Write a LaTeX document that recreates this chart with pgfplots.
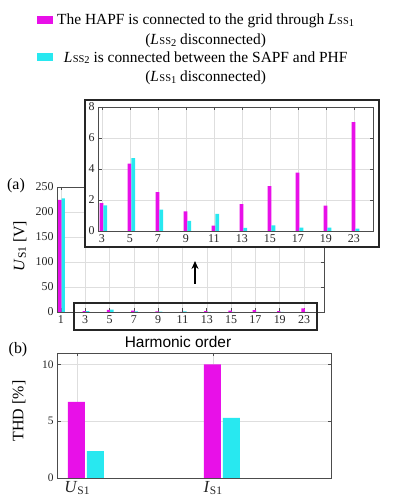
\documentclass[border=0pt]{standalone}
\usepackage{fontspec}
\setmainfont{Liberation Serif}
\setsansfont{Liberation Sans}
\usepackage{pgfplots}
\pgfplotsset{compat=1.18}
\usepackage{pgfplotstable}
\usetikzlibrary{arrows.meta}

\definecolor{hapf}{RGB}{232,16,232}
\definecolor{lss}{RGB}{40,232,240}

% harmonic spectrum of the grid voltage: idx = position on the axis
\pgfplotstableread{
idx h  mag  cya
0   1  224  227
1   3  1.80 1.65
2   5  4.34 4.70
3   7  2.50 1.38
4   9  1.27 0.65
5   11 0.34 1.10
6   13 1.74 0.20
7   15 2.90 0.37
8   17 3.76 0.22
9   19 1.63 0.22
10  23 7.03 0.15
}\harmonics

% total harmonic distortion of voltage and current
\pgfplotstableread{
idx mag  cya
1   6.7  2.37
2   10.0 5.30
}\thd

\newcommand\Lss[1]{\textit{L}\kern0.4bp{\fontsize{10.5}{10}\selectfont SS\raisebox{-1.2bp}{#1}}}
\newcommand\Sub[1]{\raisebox{-1.5bp}{\fontsize{11.5}{11}\selectfont #1}}

\pgfplotsset{
  panel/.style={
    scale only axis, ybar,
    axis line style={draw=black!70, line width=0.9bp},
    grid=major, grid style={draw=black!13, line width=0.5bp},
    major tick style={draw=black!70, line width=0.6bp},
    major tick length=3.5bp, tick align=inside,
    /pgf/number format/assume math mode=true,
    ticklabel style={text=black!85},
  },
}

\begin{document}
\begin{tikzpicture}
\path[use as bounding box] (0,0) rectangle (393bp,500bp);

% (a) full spectrum
\begin{axis}[panel,
  at={(57bp,188bp)}, anchor=south west,
  width=267bp, height=125bp,
  xmin=-0.16, xmax=10.82, ymin=0, ymax=250,
  xtick={0,...,10}, xticklabels={1,3,5,7,9,11,13,15,17,19,23},
  ytick={0,50,...,250},
  ticklabel style={font=\fontsize{12}{12}\selectfont},
  legend style={draw=none, fill=none, inner sep=0pt,
    at={(axis description cs:-0.075,2.40)}, anchor=north west,
    cells={align=center}, font=\fontsize{15.5}{20}\selectfont,
    row sep=1bp, column sep=2bp},
  legend image code/.code={\fill[#1] (0bp,6bp) rectangle (16bp,14bp);},
]
\addplot[fill=hapf, draw=none, bar width=3.4bp, bar shift=-1bp]
  table[x=idx, y=mag]{\harmonics};
\addplot[fill=lss, draw=none, bar width=3.4bp, bar shift=2.4bp]
  table[x=idx, y=cya]{\harmonics};
\addlegendentry{The HAPF is connected to the grid through \Lss{1}\\(\Lss{2} disconnected)}
\addlegendentry{\Lss{2} is connected between the SAPF and PHF\\(\Lss{1} disconnected)}
\end{axis}

% frame around the higher harmonics and pointer to the zoom
\draw[line width=1.4bp, black!85] (74bp,170bp) rectangle (317bp,197bp);
\draw[line width=1.6bp, -{Stealth[length=8bp,width=7bp]}] (195bp,216bp) -- (195bp,239bp);

% zoomed view of the higher harmonics
\draw[line width=2.2bp, black!85, fill=white] (85bp,253bp) rectangle (379bp,400bp);
\begin{axis}[panel,
  at={(98bp,269bp)}, anchor=south west,
  width=275bp, height=124bp,
  xmin=0.86, xmax=10.68, ymin=0, ymax=8,
  xtick={1,...,10}, xticklabels={3,5,7,9,11,13,15,17,19,23},
  ytick={0,2,...,8},
  ticklabel style={font=\fontsize{12}{12}\selectfont},
]
\addplot[fill=hapf, draw=none, bar width=3.8bp, bar shift=-0.4bp,
  skip coords between index={0}{1}]
  table[x=idx, y=mag]{\harmonics};
\addplot[fill=lss, draw=none, bar width=3.8bp, bar shift=3.4bp,
  skip coords between index={0}{1}]
  table[x=idx, y=cya]{\harmonics};
\end{axis}

% (b) THD
\begin{axis}[panel,
  at={(57bp,22bp)}, anchor=south west,
  width=274bp, height=125bp,
  xmin=0.853, xmax=2.87, ymin=0, ymax=11,
  xtick={1,2}, xticklabels={\textit{U}\Sub{S1}, \textit{I}\Sub{S1}},
  ytick={0,5,10},
  yticklabel style={font=\fontsize{11.5}{12}\selectfont},
  xticklabel style={font=\fontsize{17}{17}\selectfont},
]
\addplot[fill=hapf, draw=none, bar width=17bp, bar shift=-0.5bp]
  table[x=idx, y=mag]{\thd};
\addplot[fill=lss, draw=none, bar width=17bp, bar shift=18.5bp]
  table[x=idx, y=cya]{\thd};
\end{axis}

\node[font=\fontsize{16}{16}\selectfont] at (16bp,314bp) {(a)};
\node[font=\fontsize{16}{16}\selectfont] at (18bp,150bp) {(b)};
\node[rotate=90, font=\fontsize{16}{16}\selectfont] at (20bp,254bp) {\textit{U}\Sub{S1} [V]};
\node[rotate=90, font=\fontsize{16}{16}\selectfont] at (19bp,89bp) {THD [\%]};
\node[font=\sffamily\fontsize{15.5}{16}\selectfont] at (178bp,158bp) {Harmonic order};
\end{tikzpicture}
\end{document}
